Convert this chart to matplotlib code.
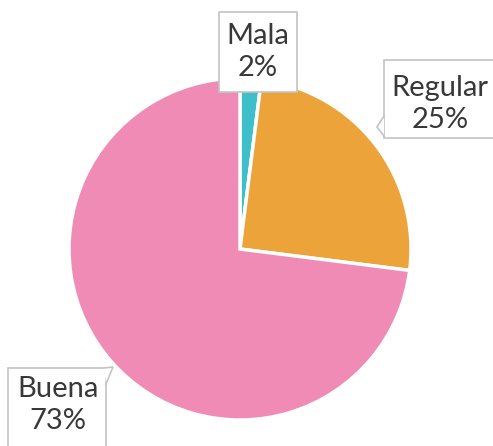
import matplotlib
matplotlib.use("Agg")
import matplotlib.pyplot as plt
from matplotlib.patches import Rectangle, Polygon

# datos
categorias = ["Mala", "Regular", "Buena"]
porcentajes = [2, 25, 73]
colores = ["#3fbfc9", "#eca33a", "#f08bb5"]

W, H = 493, 446
BORDE = "#c4c4c4"

fig = plt.figure(figsize=(W / 100, H / 100), dpi=100)
ax = fig.add_axes([0, 0, 1, 1])

centro = (240, H - 249)
radio = 171

ax.pie(porcentajes, colors=colores, startangle=90, counterclock=False,
       center=centro, radius=radio, frame=True,
       wedgeprops=dict(edgecolor="white", linewidth=2.5))
ax.set_xlim(0, W)
ax.set_ylim(0, H)
ax.axis("off")


def y(v):
    # pixeles desde arriba -> coordenadas del eje
    return H - v


# cajas: (x0, y0, x1, y1) en pixeles desde arriba, centro del texto, cola
etiquetas = {
    "Mala": dict(caja=(219, 12, 297, 92), texto=(258, 52), cola=None),
    "Regular": dict(caja=(384, 60, 505, 138), texto=(440, 104),
                    cola=[(384, 116), (377, 127), (384, 136)]),
    "Buena": dict(caja=(8, 368, 106, 460), texto=(58, 405),
                  cola=[(104, 368), (113, 367), (106, 384)]),
}

for cat, pct in zip(categorias, porcentajes):
    e = etiquetas[cat]
    x0, y0, x1, y1 = e["caja"]
    ax.add_patch(Rectangle((x0, y(y1)), x1 - x0, y1 - y0, fc="white",
                           ec=BORDE, lw=1.2, zorder=4))
    if e["cola"]:
        pts = [(px, y(py)) for px, py in e["cola"]]
        ax.add_patch(Polygon(pts, closed=True, fc="white", ec="none", zorder=4.5))
        ax.plot([p[0] for p in pts], [p[1] for p in pts], color=BORDE,
                lw=1.2, zorder=4.6, solid_joinstyle="miter")
    tx, ty = e["texto"]
    ax.text(tx, y(ty), f"{cat}\n{pct}%", ha="center", va="center",
            fontsize=21, family="Lato", color="#383838",
            linespacing=1.25, zorder=5)

fig.savefig("out.png", dpi=100)
